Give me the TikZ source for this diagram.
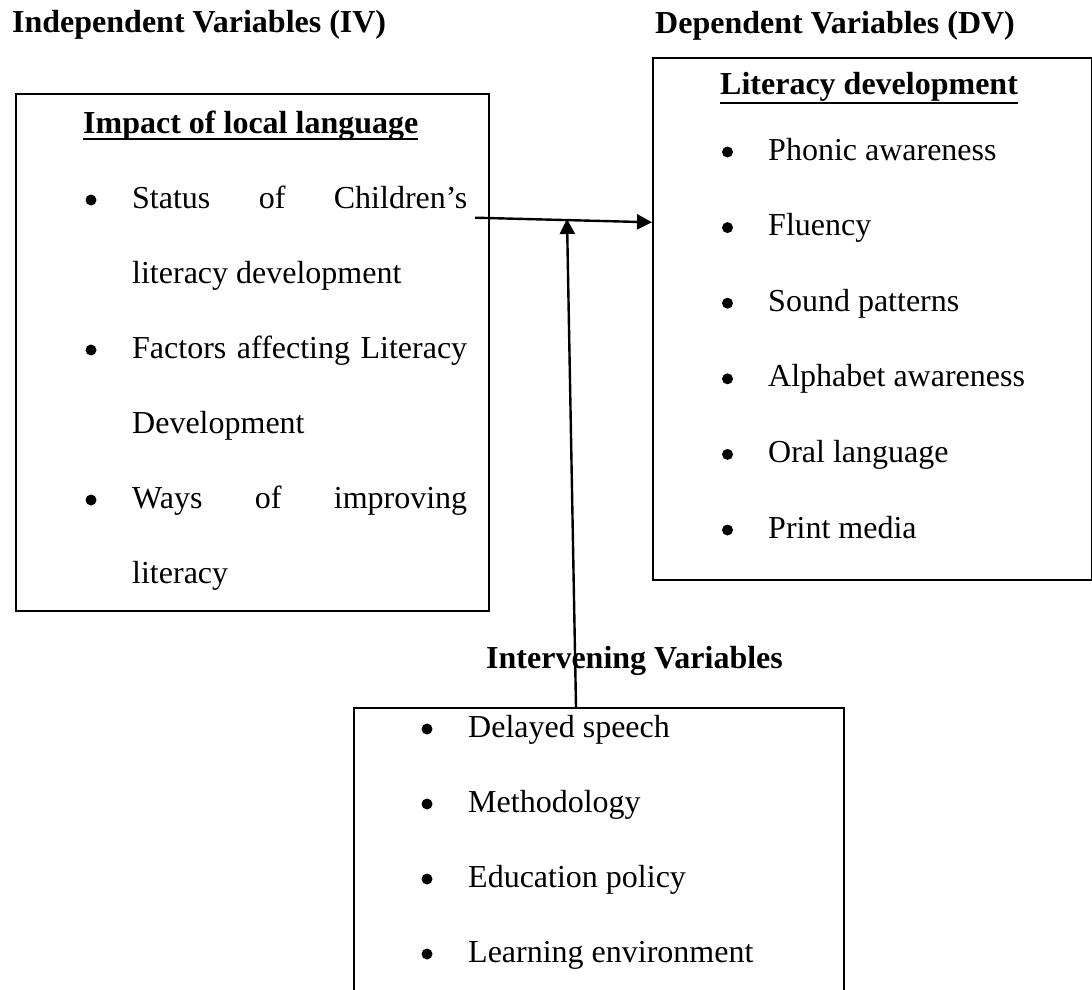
\documentclass[tikz,border=0pt]{standalone}
\usepackage{fontspec}
\setmainfont{Liberation Serif}
\usetikzlibrary{arrows.meta}
\begin{document}
\begin{tikzpicture}[x=1pt,y=-1pt,
  txt/.style={anchor=base west, inner sep=0pt, font=\fontsize{32}{38}\selectfont},
  hdr/.style={anchor=base west, inner sep=0pt, font=\fontsize{32}{38}\selectfont\bfseries},
  box/.style={draw, line width=2pt, anchor=north west, inner sep=0pt},
  conn/.style={line width=2.4pt, -{Triangle[length=15pt,width=15pt]}},
  ul/.style={line width=2.7pt},
  bul/.style={fill=black}]
\useasboundingbox (0,0) rectangle (1092,989);

% headers
\node[hdr] (hiv) at (12,32) {Independent Variables (IV)};
\node[hdr] (hdv) at (655,33) {Dependent Variables (DV)};
\node[hdr] (hint) at (486,668) {Intervening Variables};

% boxes
\node[box, minimum width=473pt, minimum height=517pt] (lbox) at (15,93) {};
\node[box, minimum width=439pt, minimum height=522pt] (rbox) at (652,57) {};
\node[box, minimum width=490pt, minimum height=310pt] (ibox) at (353,707) {};

% left box content
\node[hdr] (lt) at (83,133) {Impact of local language};
\draw[ul] ([yshift=-6pt]lt.base west) -- ([yshift=-6pt]lt.base east);
\node[txt] (l1) at (132,208) {\makebox[335pt][s]{Status of Children’s}};
\node[txt] (l2) at (132,283) {literacy development};
\node[txt] (l3) at (132,358) {\makebox[335pt][s]{Factors affecting Literacy}};
\node[txt] (l4) at (132,433) {Development};
\node[txt] (l5) at (132,508) {\makebox[335pt][s]{Ways of improving}};
\node[txt] (l6) at (132,583) {literacy};
\foreach \y in {208,358,508} \fill[bul] (91,\y-8) circle (5.5pt);

% right box content
\node[hdr] (rt) at (720,94) {Literacy development};
\draw[ul] ([yshift=-9pt]rt.base west) -- ([yshift=-9pt]rt.base east);
\node[txt] (r1) at (768,160) {Phonic awareness};
\node[txt] (r2) at (768,235.6) {Fluency};
\node[txt] (r3) at (768,311.2) {Sound patterns};
\node[txt] (r4) at (768,386.8) {Alphabet awareness};
\node[txt] (r5) at (768,462.4) {Oral language};
\node[txt] (r6) at (768,538) {Print media};
\foreach \y in {160,235.6,311.2,386.8,462.4,538} \fill[bul] (727.5,\y-8) circle (5.5pt);

% intervening box content
\node[txt] (i1) at (468,737) {Delayed speech};
\node[txt] (i2) at (468,812) {Methodology};
\node[txt] (i3) at (468,887) {Education policy};
\node[txt] (i4) at (468,962) {Learning environment};
\foreach \y in {737,812,887,962} \fill[bul] (427,\y-8) circle (5.5pt);

% connectors
\coordinate (hs) at (475,217.7);
\coordinate (he) at (652,222.3);
\draw[conn] (hs) -- (he);
\coordinate (vs) at (576,707);
\coordinate (ve) at (567,219);
\draw[conn] (vs) -- (ve);
\end{tikzpicture}
\end{document}
